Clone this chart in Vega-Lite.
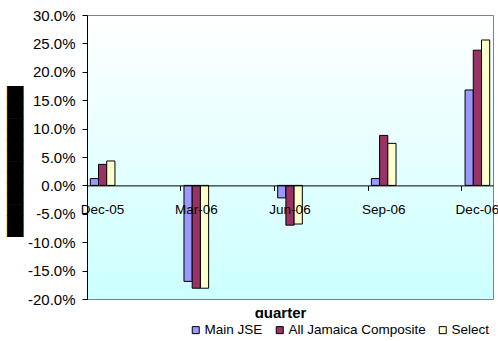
{
  "$schema": "https://vega.github.io/schema/vega-lite/v6.json",
  "width": 406,
  "height": 284,
  "autosize": {"type": "none"},
  "padding": {"left": 87, "top": 15, "right": 5, "bottom": 42},
  "background": "white",
  "config": {
    "font": "Liberation Sans",
    "locale": {"number": {"decimal": ".", "thousands": ",", "grouping": [3], "currency": ["$", ""], "minus": "-"}},
    "view": {
      "stroke": "#808080",
      "strokeWidth": 1,
      "fill": {
        "gradient": "linear",
        "x1": 0, "y1": 0, "x2": 0, "y2": 1,
        "stops": [
          {"offset": 0, "color": "#ffffff"},
          {"offset": 1, "color": "#ccffff"}
        ]
      }
    }
  },
  "data": {
    "values": [
      {"quarter": "Dec-05", "series": "Main JSE", "value": 0.012},
      {"quarter": "Dec-05", "series": "All Jamaica Composite", "value": 0.037},
      {"quarter": "Dec-05", "series": "Select", "value": 0.043},
      {"quarter": "Mar-06", "series": "Main JSE", "value": -0.169},
      {"quarter": "Mar-06", "series": "All Jamaica Composite", "value": -0.181},
      {"quarter": "Mar-06", "series": "Select", "value": -0.181},
      {"quarter": "Jun-06", "series": "Main JSE", "value": -0.022},
      {"quarter": "Jun-06", "series": "All Jamaica Composite", "value": -0.070},
      {"quarter": "Jun-06", "series": "Select", "value": -0.068},
      {"quarter": "Sep-06", "series": "Main JSE", "value": 0.012},
      {"quarter": "Sep-06", "series": "All Jamaica Composite", "value": 0.088},
      {"quarter": "Sep-06", "series": "Select", "value": 0.074},
      {"quarter": "Dec-06", "series": "Main JSE", "value": 0.168},
      {"quarter": "Dec-06", "series": "All Jamaica Composite", "value": 0.238},
      {"quarter": "Dec-06", "series": "Select", "value": 0.256}
    ]
  },
  "mark": {"type": "bar", "stroke": "black", "strokeWidth": 1},
  "encoding": {
    "x": {
      "field": "quarter",
      "type": "ordinal",
      "sort": null,
      "scale": {
        "domain": ["Dec-05", "Jan-06", "Feb-06", "Mar-06", "Apr-06", "May-06", "Jun-06", "Jul-06", "Aug-06", "Sep-06", "Oct-06", "Nov-06", "Dec-06"],
        "paddingInner": 0,
        "paddingOuter": 0
      },
      "axis": {
        "values": ["Dec-05", "Mar-06", "Jun-06", "Sep-06", "Dec-06"],
        "bandPosition": 0,
        "offset": -113.6,
        "labelAngle": 0,
        "tickSize": 5,
        "tickColor": "black",
        "domainColor": "black",
        "labelFontSize": 13.5,
        "labelColor": "black",
        "labelPadding": 12,
        "title": "quarter",
        "titleFontWeight": "bold",
        "titleFontSize": 15,
        "titleColor": "black",
        "titleX": 193,
        "titleY": 132,
        "titleBaseline": "alphabetic",
        "zindex": 1
      }
    },
    "xOffset": {
      "field": "series",
      "sort": ["Main JSE", "All Jamaica Composite", "Select"],
      "scale": {"paddingInner": 0, "paddingOuter": 0.4}
    },
    "y": {
      "field": "value",
      "type": "quantitative",
      "scale": {"domain": [-0.2, 0.3], "nice": false},
      "axis": {
        "values": [-0.2, -0.15, -0.1, -0.05, 0, 0.05, 0.1, 0.15, 0.2, 0.25, 0.3],
        "format": ".1%",
        "grid": false,
        "tickSize": 5,
        "tickColor": "black",
        "domainColor": "black",
        "labelFontSize": 15,
        "labelColor": "black",
        "labelPadding": 7,
        "title": "██████████████",
        "titleFont": "DejaVu Sans",
        "titleFontSize": 14,
        "titleFontWeight": "normal",
        "titleColor": "black",
        "titlePadding": 5,
        "titleY": 146
      }
    },
    "color": {
      "field": "series",
      "type": "nominal",
      "sort": ["Main JSE", "All Jamaica Composite", "Select"],
      "scale": {
        "domain": ["Main JSE", "All Jamaica Composite", "Select"],
        "range": ["#9999ff", "#993366", "#ffffcc"]
      },
      "legend": {
        "orient": "none",
        "legendX": 97,
        "legendY": 303,
        "direction": "horizontal",
        "title": null,
        "symbolType": "square",
        "symbolSize": 49,
        "symbolStrokeColor": "black",
        "symbolStrokeWidth": 1,
        "labelFontSize": 13.5,
        "labelColor": "black",
        "labelOffset": 2,
        "columnPadding": 10,
        "fillColor": "white",
        "padding": 5,
        "zindex": 2
      }
    }
  }
}
